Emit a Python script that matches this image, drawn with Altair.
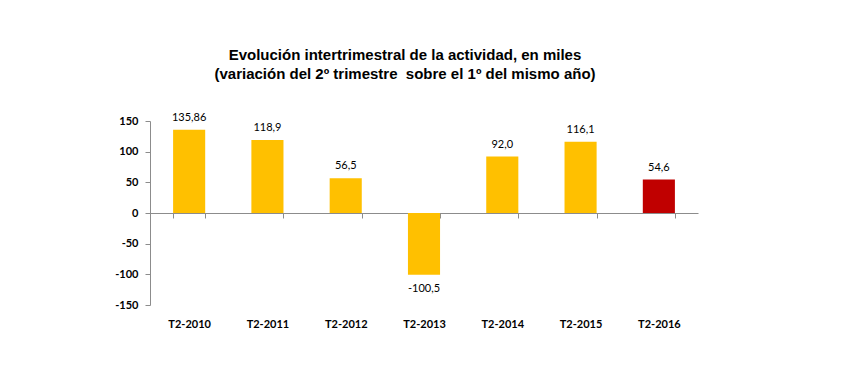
import altair as alt
import pandas as pd

categories = ["T2-2010", "T2-2011", "T2-2012", "T2-2013", "T2-2014", "T2-2015", "T2-2016"]
values = [135.86, 118.9, 56.5, -100.5, 92.0, 116.1, 54.6]
labels = ["135,86", "118,9", "56,5", "-100,5", "92,0", "116,1", "54,6"]
colors = ["#FFC000", "#FFC000", "#FFC000", "#FFC000", "#FFC000", "#FFC000", "#C00000"]
y_ticks = [-150, -100, -50, 0, 50, 100, 150]

df = pd.DataFrame({"cat": categories, "val": values, "lab": labels, "col": colors})

W, H = 548, 184
AXIS_GRAY = "#8C8C8C"

x_scale = alt.Scale(domain=categories, paddingInner=0.59, paddingOuter=0.295)
y_scale = alt.Scale(domain=[-150, 150], nice=False, zero=False)

x_axis = alt.Axis(
    orient="bottom",
    offset=-H / 2,
    labelPadding=H / 2 + 8,
    labelAngle=0,
    labelFont="Lato",
    labelFontWeight="bold",
    labelFontSize=11,
    labelColor="#000000",
    domainColor=AXIS_GRAY,
    tickColor=AXIS_GRAY,
    tickSize=5,
    tickBand="extent",
    grid=False,
)
y_axis = alt.Axis(
    values=y_ticks,
    labelExpr="datum.value + ''",
    labelOverlap=False,
    labelFont="Lato",
    labelFontWeight="bold",
    labelFontSize=11,
    labelColor="#000000",
    domainColor=AXIS_GRAY,
    tickColor=AXIS_GRAY,
    tickSize=5,
    labelPadding=7,
    grid=False,
)

x_enc = alt.X("cat:N", scale=x_scale, sort=None, title=None, axis=x_axis)
y_enc = alt.Y("val:Q", scale=y_scale, title=None, axis=y_axis)

base = alt.Chart(df)

bars = base.mark_bar().encode(
    x=x_enc,
    y=y_enc,
    y2=alt.datum(0),
    color=alt.Color("col:N", scale=None, legend=None),
)

pos_text = base.transform_filter("datum.val >= 0").mark_text(
    font="Lato", fontSize=11, color="#000000", dy=-12
).encode(x=x_enc, y=y_enc, text="lab:N")

neg_text = base.transform_filter("datum.val < 0").mark_text(
    font="Lato", fontSize=11, color="#000000", dy=14
).encode(x=x_enc, y=y_enc, text="lab:N")

chart = (
    alt.layer(bars, pos_text, neg_text)
    .properties(
        width=W,
        height=H,
        background="#FFFFFF",
        autosize=alt.AutoSizeParams(type="none"),
        padding={"left": 142, "top": 113, "right": 140, "bottom": 70},
        title=alt.TitleParams(
            text=[
                "Evolución intertrimestral de la actividad, en miles",
                "(variación del 2º trimestre\u00a0 sobre el 1º del mismo año)",
            ],
            font="Liberation Sans",
            fontSize=15,
            fontWeight="bold",
            color="#000000",
            lineHeight=19,
            anchor="middle",
            dx=-19,
            offset=30,
        ),
    )
    .configure_view(strokeWidth=0)
)

chart.save("out.html", embed_options={"renderer": "svg", "actions": False})
